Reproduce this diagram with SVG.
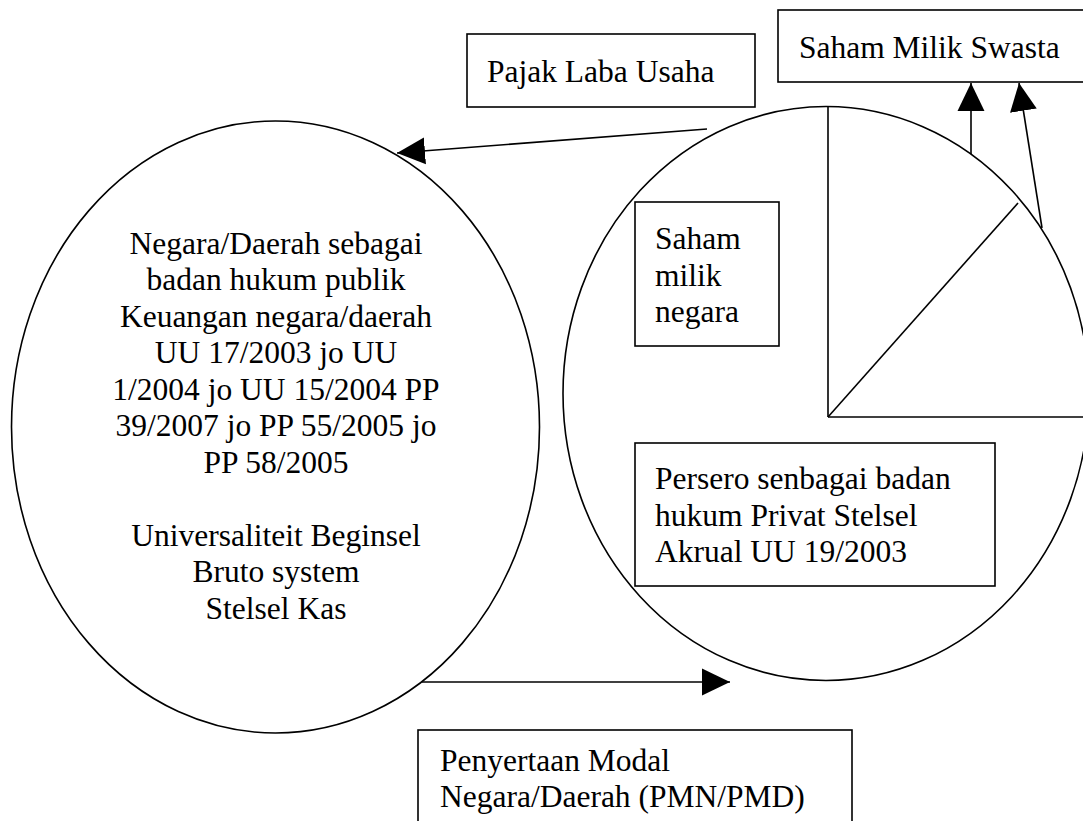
<svg xmlns="http://www.w3.org/2000/svg" width="1083" height="821" viewBox="0 0 1083 821">
  <style>
    .t { font-family: "Liberation Serif", "Times New Roman", serif; font-size: 31.5px; fill: #000; }
    .c { text-anchor: middle; }
    .shape { fill: none; stroke: #000; stroke-width: 1.6; }
    .line { fill: none; stroke: #000; stroke-width: 1.6; }
  </style>
  <defs>
    <marker id="arrow" markerUnits="userSpaceOnUse" markerWidth="28" markerHeight="28" viewBox="0 0 27 26" refX="27" refY="13" orient="auto">
      <path d="M0,0 L27,13 L0,26 Z" fill="#000"/>
    </marker>
  </defs>
  <rect width="1083" height="821" fill="#fff"/>

  <g id="negara-daerah">
    <ellipse class="shape" cx="275.5" cy="427" rx="264" ry="306"/>
    <text class="t c" x="276" y="253.5">Negara/Daerah sebagai</text>
    <text class="t c" x="276" y="290">badan hukum publik</text>
    <text class="t c" x="276" y="326.5">Keuangan negara/daerah</text>
    <text class="t c" x="276" y="363">UU 17/2003 jo UU</text>
    <text class="t c" x="276" y="399.5">1/2004 jo UU 15/2004 PP</text>
    <text class="t c" x="276" y="436">39/2007 jo PP 55/2005 jo</text>
    <text class="t c" x="276" y="472.5">PP 58/2005</text>
    <text class="t c" x="276" y="545.5">Universaliteit Beginsel</text>
    <text class="t c" x="276" y="582">Bruto system</text>
    <text class="t c" x="276" y="618.5">Stelsel Kas</text>
  </g>

  <g id="persero">
    <ellipse class="shape" cx="826" cy="393.5" rx="263" ry="287"/>
    <line class="line" x1="828" y1="107" x2="828" y2="417"/>
    <line class="line" x1="828" y1="417" x2="1083" y2="417"/>
    <line class="line" x1="828" y1="417" x2="1018" y2="203"/>
  </g>

  <g id="saham-milik-negara">
    <rect class="shape" x="635" y="202" width="144" height="144"/>
    <text class="t" x="655" y="249">Saham</text>
    <text class="t" x="655" y="285.5">milik</text>
    <text class="t" x="655" y="322">negara</text>
  </g>

  <g id="persero-badan-hukum-privat">
    <rect class="shape" x="635" y="443" width="360" height="143"/>
    <text class="t" x="655" y="489">Persero senbagai badan</text>
    <text class="t" x="655" y="525.5">hukum Privat Stelsel</text>
    <text class="t" x="655" y="562">Akrual UU 19/2003</text>
  </g>

  <g id="pajak-laba-usaha">
    <rect class="shape" x="467" y="34" width="288" height="73"/>
    <text class="t" x="487" y="82">Pajak Laba Usaha</text>
  </g>

  <g id="saham-milik-swasta">
    <rect class="shape" x="778" y="10" width="320" height="72"/>
    <text class="t" x="799" y="58">Saham Milik Swasta</text>
  </g>

  <g id="pmn-pmd">
    <rect class="shape" x="418" y="730" width="434" height="110"/>
    <text class="t" x="440" y="770.5">Penyertaan Modal</text>
    <text class="t" x="440" y="806.5">Negara/Daerah (PMN/PMD)</text>
  </g>

  <g id="connectors">
    <line class="line" x1="707" y1="129" x2="397" y2="153" marker-end="url(#arrow)"/>
    <line class="line" x1="971" y1="154" x2="971" y2="83" marker-end="url(#arrow)"/>
    <line class="line" x1="1042" y1="228" x2="1019" y2="83" marker-end="url(#arrow)"/>
    <line class="line" x1="422" y1="682" x2="730" y2="682" marker-end="url(#arrow)"/>
  </g>
</svg>
